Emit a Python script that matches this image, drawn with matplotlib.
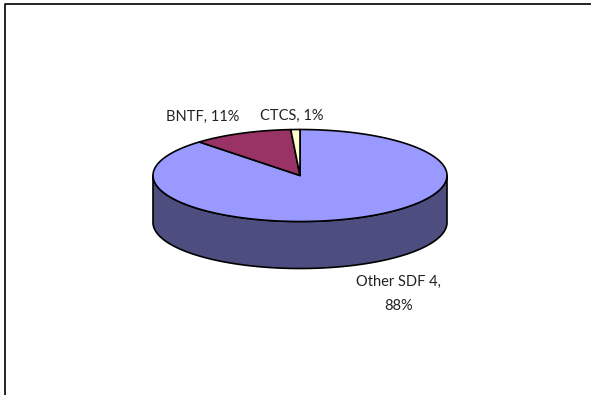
import numpy as np
import matplotlib
matplotlib.use('Agg')
from matplotlib import pyplot as plt

plt.rcParams['font.family'] = ['Lato', 'DejaVu Sans']

labels = ['Other SDF 4', 'BNTF', 'CTCS']
values = [88, 11, 1]
colors = ['#9999FF', '#993366', '#FFFFCC']
side_color = '#4D4D80'

cx, cy = 300, 175.5
rx, ry = 147, 46
depth = 47

def ell(a):
    # angle counted clockwise from the top of the pie
    return cx + rx*np.sin(a), cy - ry*np.cos(a)

fig = plt.figure(figsize=(5.91, 3.95), dpi=100)
ax = fig.add_axes([0, 0, 1, 1])
ax.set_xlim(0, 591)
ax.set_ylim(395, 0)
ax.axis('off')

# outer frame, only top and left show
ax.plot([4.5, 4.5, 591], [395, 3.8, 3.8], color='black', lw=1.2, solid_capstyle='butt')

# side of the disc
a = np.linspace(np.pi/2, 3*np.pi/2, 200)
x, y = ell(a)
ax.fill(np.r_[x, x[::-1]], np.r_[y, y[::-1] + depth], facecolor=side_color,
        edgecolor='black', lw=1.2, zorder=2)

# top slices
start = 0
for v, c in zip(values, colors):
    end = start + v/sum(values)*2*np.pi
    a = np.linspace(start, end, 300)
    x, y = ell(a)
    ax.fill(np.r_[cx, x], np.r_[cy, y], facecolor=c, edgecolor='black', lw=1.2,
            joinstyle='round', zorder=3)
    start = end

fs = 10.5
tc = '#222222'
ax.text(203, 117, '%s, %d%%' % (labels[1], values[1]), ha='center', va='center', fontsize=fs, color=tc)
ax.text(292, 116, '%s, %d%%' % (labels[2], values[2]), ha='center', va='center', fontsize=fs, color=tc)
ax.text(398.5, 282, labels[0] + ',', ha='center', va='center', fontsize=fs, color=tc)
ax.text(398.5, 306, '%d%%' % values[0], ha='center', va='center', fontsize=fs, color=tc)

plt.savefig('out.png', dpi=100)
